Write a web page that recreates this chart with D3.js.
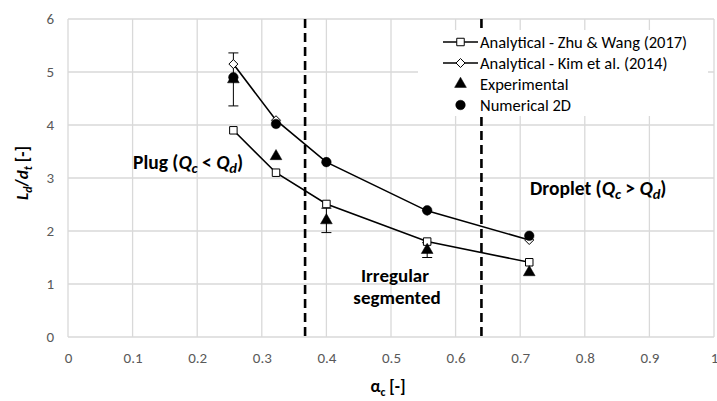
<!DOCTYPE html>
<html><head><meta charset="utf-8">
<script src="https://cdn.jsdelivr.net/npm/d3@7"></script>
<style>body{margin:0;background:#fff}svg{display:block;font-family:Carlito,Lato,"Open Sans",sans-serif}</style>
</head><body><svg id="c" width="717" height="401"></svg>
<script>
const xVals = [0.256, 0.322, 0.4, 0.556, 0.714];
const zhuWang = [3.9, 3.1, 2.51, 1.8, 1.41];
const kim = [5.15, 4.09, 3.3, 2.38, 1.83];
const experimental = [4.86, 3.41, 2.2, 1.64, 1.22];
const expError = [0.5, 0, 0.23, 0.14, 0];
const numerical = [4.9, 4.02, 3.3, 2.39, 1.91];
const regimeBounds = [0.367, 0.64];
const xTicks = [0,0.1,0.2,0.3,0.4,0.5,0.6,0.7,0.8,0.9,1];
const yTicks = [0,1,2,3,4,5,6];
const legendLabels = ["Analytical - Zhu & Wang (2017)","Analytical - Kim et al. (2014)","Experimental","Numerical 2D"];

const svg = d3.select("#c");
const x = d3.scaleLinear().domain([0,1]).range([68,714]);
const y = d3.scaleLinear().domain([0,6]).range([337,19]);
const grid = "#d9d9d9", tickCol = "#595959";

svg.append("g").selectAll("line.v").data(xTicks).join("line")
  .attr("x1",d=>x(d)).attr("x2",d=>x(d)).attr("y1",y(0)).attr("y2",y(6))
  .attr("stroke",grid).attr("stroke-width",1.3);
svg.append("g").selectAll("line.h").data(yTicks).join("line")
  .attr("x1",x(0)).attr("x2",x(1)).attr("y1",d=>y(d)).attr("y2",d=>y(d))
  .attr("stroke",grid).attr("stroke-width",1.3);

const xa = svg.append("g").attr("transform",`translate(0,${y(0)})`)
  .call(d3.axisBottom(x).tickValues(xTicks).tickSize(0).tickPadding(15).tickFormat(d3.format("")));
const ya = svg.append("g").attr("transform",`translate(${x(0)},0)`)
  .call(d3.axisLeft(y).tickValues(yTicks).tickSize(0).tickPadding(14).tickFormat(d3.format("d")));
[xa,ya].forEach(a=>{a.select(".domain").remove();a.selectAll("text").attr("fill",tickCol).style("font-size","15px").style("font-family","Carlito,Lato,sans-serif");});

svg.append("g").selectAll("line").data(regimeBounds).join("line")
  .attr("x1",d=>x(d)).attr("x2",d=>x(d)).attr("y1",y(6)).attr("y2",y(0))
  .attr("stroke","#000").attr("stroke-width",2.6).attr("stroke-dasharray","9,5");

const pts = (arr)=>xVals.map((v,i)=>[v,arr[i]]);
const line = d3.line().x(d=>x(d[0])).y(d=>y(d[1]));
svg.append("path").attr("d",line(pts(zhuWang))).attr("fill","none").attr("stroke","#000").attr("stroke-width",1.6);
svg.append("path").attr("d",line(pts(kim))).attr("fill","none").attr("stroke","#000").attr("stroke-width",1.6);

const eb = svg.append("g").attr("stroke","#000").attr("stroke-width",1);
xVals.forEach((v,i)=>{
  const e = expError[i]; if(!e) return;
  const cx = x(v), y1 = y(experimental[i]+e), y2 = y(experimental[i]-e);
  eb.append("line").attr("x1",cx).attr("x2",cx).attr("y1",y1).attr("y2",y2);
  eb.append("line").attr("x1",cx-5).attr("x2",cx+5).attr("y1",y1).attr("y2",y1);
  eb.append("line").attr("x1",cx-5).attr("x2",cx+5).attr("y1",y2).attr("y2",y2);
});

const sym = {
  square: d3.symbol().type(d3.symbolSquare).size(56)(),
  diamond: "M0,-4.5L4.5,0L0,4.5L-4.5,0Z",
  triangle: d3.symbol().type(d3.symbolTriangle).size(60)(),
  circle: d3.symbol().type(d3.symbolCircle).size(72)()
};
function markers(arr, path, fill){
  svg.append("g").selectAll("path").data(pts(arr)).join("path")
    .attr("transform",d=>`translate(${x(d[0])},${y(d[1])})`)
    .attr("d",path).attr("fill",fill).attr("stroke","#000").attr("stroke-width",fill==="#fff"?1:0.5);
}
markers(zhuWang, sym.square, "#fff");
markers(kim, sym.diamond, "#fff");
markers(experimental, sym.triangle, "#000");
markers(numerical, sym.circle, "#000");

const lg = svg.append("g");
lg.append("rect").attr("x",418).attr("y",30).attr("width",290).attr("height",86).attr("fill","#fff");
const ly = [42,63,84,105];
const lsym = [sym.square, sym.diamond, sym.triangle, sym.circle];
legendLabels.forEach((t,i)=>{
  if(i<2) lg.append("line").attr("x1",443).attr("x2",478).attr("y1",ly[i]).attr("y2",ly[i]).attr("stroke","#000").attr("stroke-width",1.6);
  lg.append("path").attr("d",lsym[i]).attr("transform",`translate(460.5,${ly[i]})`)
    .attr("fill",i<2?"#fff":"#000").attr("stroke","#000").attr("stroke-width",i<2?1:0.5);
  lg.append("text").attr("x",480).attr("y",ly[i]).attr("dy","0.35em").style("font-size","16.5px").attr("fill","#000").text(t);
});

function sub(t, main, s){
  t.append("tspan").attr("font-style","italic").text(main);
  t.append("tspan").attr("font-style","italic").attr("font-size","75%").attr("dy",4).text(s);
}
const p = svg.append("text").attr("x",133).attr("y",169).style("font-size","19.5px").attr("font-weight","bold");
p.append("tspan").text("Plug (");
sub(p,"Q","c"); p.append("tspan").attr("dy",-4).text(" < ");
sub(p,"Q","d"); p.append("tspan").attr("dy",-4).text(")");

const dr = svg.append("text").attr("x",530).attr("y",195).style("font-size","19.5px").attr("font-weight","bold");
dr.append("tspan").text("Droplet (");
sub(dr,"Q","c"); dr.append("tspan").attr("dy",-4).text(" > ");
sub(dr,"Q","d"); dr.append("tspan").attr("dy",-4).text(")");

svg.append("text").attr("x",395).attr("y",282).attr("text-anchor","middle").style("font-size","19px").attr("font-weight","bold").text("Irregular");
svg.append("text").attr("x",397).attr("y",304).attr("text-anchor","middle").style("font-size","19px").attr("font-weight","bold").text("segmented");

const yt = svg.append("text").attr("transform","translate(28,173) rotate(-90)").attr("text-anchor","middle").style("font-size","17px").attr("font-weight","bold");
yt.append("tspan").attr("font-style","italic").text("L");
yt.append("tspan").attr("font-style","italic").attr("font-size","70%").attr("dy",4).text("d");
yt.append("tspan").attr("dy",-4).text("/");
yt.append("tspan").attr("font-style","italic").text("d");
yt.append("tspan").attr("font-style","italic").attr("font-size","70%").attr("dy",4).text("t");
yt.append("tspan").attr("dy",-4).text(" [-]");

const xt = svg.append("text").attr("x",388).attr("y",392).attr("text-anchor","middle").style("font-size","17px").attr("font-weight","bold");
xt.append("tspan").text("α");
xt.append("tspan").attr("font-size","70%").attr("dy",4).text("c");
xt.append("tspan").attr("dy",-4).text(" [-]");
</script></body></html>
